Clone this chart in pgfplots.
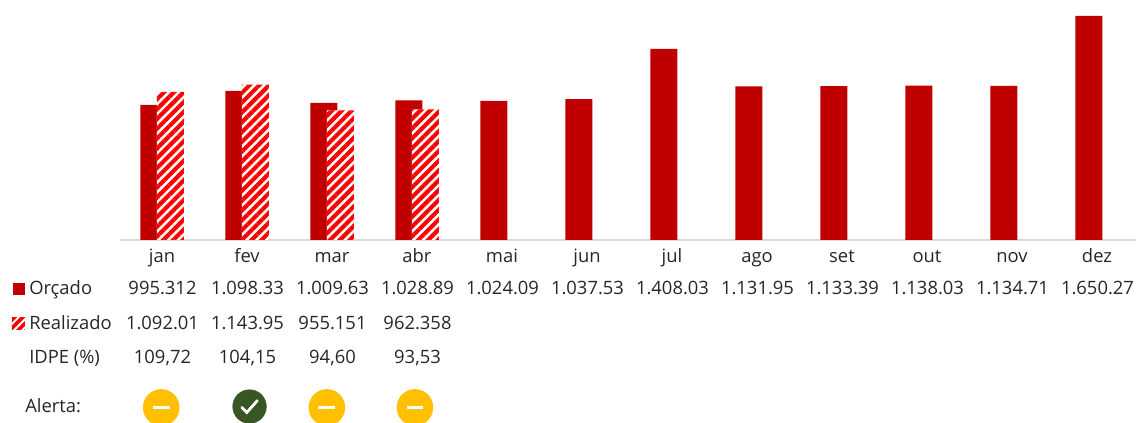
\documentclass[border=0pt]{standalone}
\usepackage{pgfplots}
\pgfplotsset{compat=1.18}
\usepackage{fontspec}
\setmainfont{Open Sans}
\usetikzlibrary{patterns.meta}
\definecolor{orc}{HTML}{C00000}
\definecolor{stripe}{HTML}{FF0000}
\definecolor{amber}{HTML}{FFC000}
\definecolor{okgreen}{HTML}{375623}
\definecolor{axisgray}{HTML}{D9D9D9}
\definecolor{txt}{HTML}{262626}
\pgfdeclareplotmark{dashmark}{\pgfsetlinewidth{2.6pt}\pgfsetstrokecolor{white}\pgfsetbuttcap
  \pgfpathmoveto{\pgfqpoint{-6.3pt}{0pt}}\pgfpathlineto{\pgfqpoint{6.3pt}{0pt}}\pgfusepathqstroke}
\pgfdeclareplotmark{checkmark}{\pgfsetlinewidth{2.1pt}\pgfsetstrokecolor{white}\pgfsetroundcap
  \pgfpathmoveto{\pgfqpoint{-5.8pt}{-0.6pt}}\pgfpathlineto{\pgfqpoint{-2pt}{-4.4pt}}\pgfpathlineto{\pgfqpoint{5.8pt}{4.4pt}}\pgfusepathqstroke}
\tikzset{hatch/.style={fill=white,postaction={pattern={Lines[angle=45,distance=5.2pt,line width=3.1pt]},pattern color=stripe}}}
\newcommand{\tbl}{\fontsize{13.8}{16}\selectfont}
\begin{document}
\begin{tikzpicture}
\path[use as bounding box] (-90pt,-137.25pt) rectangle (762pt,180pt);
\begin{axis}[
  at={(0,0)},anchor=south west,
  scale only axis,width=762pt,height=168pt,
  xmin=-0.494,xmax=11.459,ymin=0,ymax=1650.27,
  clip=false,
  axis y line=none,
  axis x line*=bottom,
  x axis line style={draw=axisgray,line width=1.6pt,-},
  xtick={0,...,11},
  xticklabels={jan,fev,mar,abr,mai,jun,jul,ago,set,out,nov,dez},
  major tick length=0pt,
  xtick style={draw=none},
  xticklabel style={font=\tbl,text=txt,text height=10pt,text depth=3pt,yshift=-3pt},
]
\addplot[ybar,bar width=20.4pt,bar shift=-6.1pt,fill=orc,draw=none] coordinates {
(0,995.312)(1,1098.33)(2,1009.63)(3,1028.89)(4,1024.09)(5,1037.53)(6,1408.03)(7,1131.95)(8,1133.39)(9,1138.03)(10,1134.71)(11,1650.27)};
\addplot[ybar,bar width=20.25pt,bar shift=6.2pt,draw=none,hatch] coordinates {
(0,1092.01)(1,1143.95)(2,955.151)(3,962.358)};
\addplot[only marks,amber,mark=*,mark size=13.5pt] coordinates {(-0.009,-1234)(1.94,-1234)(2.976,-1234)};
\addplot[only marks,okgreen,mark=*,mark size=12.6pt] coordinates {(1.03,-1227)};
\addplot[only marks,mark=dashmark] coordinates {(-0.009,-1234)(1.94,-1234)(2.976,-1234)};
\addplot[only marks,mark=checkmark] coordinates {(1.03,-1227)};
\end{axis}
% table, picture coordinates: x=(px-120)*.75pt, y=(240-py)*.75pt
\fill[orc] (-80.25pt,-41.25pt) rectangle (-71.25pt,-32.25pt);
\path[fill=white,postaction={pattern={Lines[angle=45,distance=4.4pt,line width=2.7pt]},pattern color=stripe}] (-81pt,-67pt) rectangle (-71.25pt,-58pt);
\foreach \t/\px/\py in {Orçado/29/295,Realizado/29/329.5,IDPE (\%)/29/364,Alerta:/25/413}
  \node[anchor=base west,inner sep=0pt,font=\tbl,text=txt] at ({(\px-120)*.75pt},{(240-\py)*.75pt}) {\t};
\foreach \v [count=\i from 0] in {995.312,1.098.33,1.009.63,1.028.89,1.024.09,1.037.53,1.408.03,1.131.95,1.133.39,1.138.03,1.134.71,1.650.27}
  \node[anchor=base,inner sep=0pt,font=\tbl,text=txt] at ({(42.5+85*\i)*.75pt},{(240-295)*.75pt}) {\v};
\foreach \v [count=\i from 0] in {1.092.01,1.143.95,955.151,962.358}
  \node[anchor=base,inner sep=0pt,font=\tbl,text=txt] at ({(42.5+85*\i)*.75pt},{(240-329.5)*.75pt}) {\v};
\foreach \v [count=\i from 0] in {109{,}72,104{,}15,94{,}60,93{,}53}
  \node[anchor=base,inner sep=0pt,font=\tbl,text=txt] at ({(42.5+85*\i)*.75pt},{(240-364)*.75pt}) {\v};
\end{tikzpicture}
\end{document}
